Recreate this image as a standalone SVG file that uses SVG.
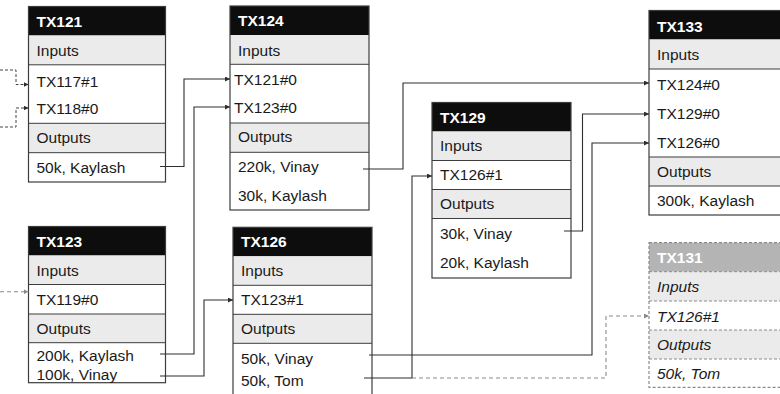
<svg xmlns="http://www.w3.org/2000/svg" width="780" height="394" viewBox="0 0 780 394">
  <style>
    .hdr { fill: #0d0d0d; }
    .sec { fill: #ebebeb; }
    .cell { fill: #ffffff; }
    .sep { stroke: #3c3c3c; stroke-width: 1; }
    .frame { fill: none; stroke: #3c3c3c; stroke-width: 1.2; }
    .t { font-family: "Liberation Sans", Arial, sans-serif; font-size: 15.5px; fill: #1a1a1a; }
    .h { font-weight: bold; fill: #ffffff; }
    .ghost .hdr { fill: #b4b4b4; }
    .ghost .sep, .ghost .frame { stroke: #8a8a8a; stroke-dasharray: 3 2; }
    .ghost .t { font-style: italic; }
    .ghost .h { font-style: normal; fill: #ffffff; }
    .wire { fill: none; stroke: #2e2e2e; stroke-width: 1.1; marker-end: url(#tip); }
    .ext { fill: none; stroke: #444; stroke-width: 1; stroke-dasharray: 3 2; marker-end: url(#tip); }
    .ghostwire { fill: none; stroke: #8a8a8a; stroke-width: 1.1; stroke-dasharray: 4 3; marker-end: url(#tipgray); }
  </style>
  <defs>
    <marker id="tip" markerUnits="userSpaceOnUse" markerWidth="6" markerHeight="6" refX="5" refY="2.5" orient="auto">
      <path d="M0,0 L5,2.5 L0,5 z" fill="#2e2e2e"/>
    </marker>
    <marker id="tipgray" markerUnits="userSpaceOnUse" markerWidth="6" markerHeight="6" refX="5" refY="2.5" orient="auto">
      <path d="M0,0 L5,2.5 L0,5 z" fill="#8a8a8a"/>
    </marker>
  </defs>

  <rect width="780" height="394" fill="#ffffff"/>

  <!-- TX121 -->
  <g id="TX121">
    <rect class="hdr" x="28.5" y="6.5" width="137" height="29"/>
    <rect class="sec" x="28.5" y="35.5" width="137" height="29.3"/>
    <rect class="cell" x="28.5" y="64.8" width="137" height="58.5"/>
    <rect class="sec" x="28.5" y="123.3" width="137" height="29.4"/>
    <rect class="cell" x="28.5" y="152.7" width="137" height="29.3"/>
    <path class="sep" d="M28.5,64.8 H165.5 M28.5,123.3 H165.5 M28.5,152.7 H165.5"/>
    <rect class="frame" x="28.5" y="6.5" width="137" height="175.5"/>
    <text class="t h" x="36.5" y="26.5">TX121</text>
    <text class="t" x="36.5" y="56">Inputs</text>
    <text class="t" x="36.5" y="87">TX117#1</text>
    <text class="t" x="36.5" y="114">TX118#0</text>
    <text class="t" x="36.5" y="143">Outputs</text>
    <text class="t" x="36.5" y="172.5">50k, Kaylash</text>
  </g>

  <!-- TX124 -->
  <g id="TX124">
    <rect class="hdr" x="230" y="6" width="139" height="29"/>
    <rect class="sec" x="230" y="35" width="139" height="29.3"/>
    <rect class="cell" x="230" y="64.3" width="139" height="58.7"/>
    <rect class="sec" x="230" y="123" width="139" height="29.3"/>
    <rect class="cell" x="230" y="152.3" width="139" height="57.7"/>
    <path class="sep" d="M230,64.3 H369 M230,123 H369 M230,152.3 H369"/>
    <rect class="frame" x="230" y="6" width="139" height="204"/>
    <text class="t h" x="238" y="25.5">TX124</text>
    <text class="t" x="238" y="55.5">Inputs</text>
    <text class="t" x="234" y="84.5">TX121#0</text>
    <text class="t" x="234" y="113">TX123#0</text>
    <text class="t" x="238" y="142">Outputs</text>
    <text class="t" x="238" y="172">220k, Vinay</text>
    <text class="t" x="238" y="201">30k, Kaylash</text>
  </g>

  <!-- TX129 -->
  <g id="TX129">
    <rect class="hdr" x="432" y="102.5" width="139" height="29"/>
    <rect class="sec" x="432" y="131.5" width="139" height="29"/>
    <rect class="cell" x="432" y="160.5" width="139" height="29"/>
    <rect class="sec" x="432" y="189.5" width="139" height="29"/>
    <rect class="cell" x="432" y="218.5" width="139" height="59.5"/>
    <path class="sep" d="M432,160.5 H571 M432,189.5 H571 M432,218.5 H571"/>
    <rect class="frame" x="432" y="102.5" width="139" height="175.5"/>
    <text class="t h" x="440" y="122.5">TX129</text>
    <text class="t" x="440" y="151">Inputs</text>
    <text class="t" x="440" y="180">TX126#1</text>
    <text class="t" x="440" y="209">Outputs</text>
    <text class="t" x="440" y="238.5">30k, Vinay</text>
    <text class="t" x="440" y="267.5">20k, Kaylash</text>
  </g>

  <!-- TX133 -->
  <g id="TX133">
    <rect class="hdr" x="649" y="10.5" width="141" height="29"/>
    <rect class="sec" x="649" y="39.5" width="141" height="29.5"/>
    <rect class="cell" x="649" y="69" width="141" height="88"/>
    <rect class="sec" x="649" y="157" width="141" height="29"/>
    <rect class="cell" x="649" y="186" width="141" height="29"/>
    <path class="sep" d="M649,69 H790 M649,157 H790 M649,186 H790"/>
    <rect class="frame" x="649" y="10.5" width="141" height="204.5"/>
    <text class="t h" x="657" y="31.5">TX133</text>
    <text class="t" x="657" y="60">Inputs</text>
    <text class="t" x="657" y="89.5">TX124#0</text>
    <text class="t" x="657" y="118.5">TX129#0</text>
    <text class="t" x="657" y="147.5">TX126#0</text>
    <text class="t" x="657" y="177">Outputs</text>
    <text class="t" x="657" y="206">300k, Kaylash</text>
  </g>

  <!-- TX123 -->
  <g id="TX123">
    <rect class="hdr" x="28.5" y="226.5" width="137" height="29"/>
    <rect class="sec" x="28.5" y="255.5" width="137" height="29"/>
    <rect class="cell" x="28.5" y="284.5" width="137" height="29.5"/>
    <rect class="sec" x="28.5" y="314" width="137" height="28.7"/>
    <rect class="cell" x="28.5" y="342.7" width="137" height="40"/>
    <path class="sep" d="M28.5,284.5 H165.5 M28.5,314 H165.5 M28.5,342.7 H165.5"/>
    <rect class="frame" x="28.5" y="226.5" width="137" height="156.2"/>
    <text class="t h" x="36.5" y="246.5">TX123</text>
    <text class="t" x="36.5" y="275.5">Inputs</text>
    <text class="t" x="36.5" y="304.5">TX119#0</text>
    <text class="t" x="36.5" y="333.5">Outputs</text>
    <text class="t" x="36.5" y="360.5">200k, Kaylash</text>
    <text class="t" x="36.5" y="379.5">100k, Vinay</text>
  </g>

  <!-- TX126 -->
  <g id="TX126">
    <rect class="hdr" x="233" y="227.3" width="139" height="29"/>
    <rect class="sec" x="233" y="256.3" width="139" height="29"/>
    <rect class="cell" x="233" y="285.3" width="139" height="29"/>
    <rect class="sec" x="233" y="314.3" width="139" height="29"/>
    <rect class="cell" x="233" y="343.3" width="139" height="60"/>
    <path class="sep" d="M233,285.3 H372 M233,314.3 H372 M233,343.3 H372"/>
    <rect class="frame" x="233" y="227.3" width="139" height="176"/>
    <text class="t h" x="241" y="246.7">TX126</text>
    <text class="t" x="241" y="276">Inputs</text>
    <text class="t" x="241" y="305">TX123#1</text>
    <text class="t" x="241" y="334">Outputs</text>
    <text class="t" x="241" y="364">50k, Vinay</text>
    <text class="t" x="241" y="386">50k, Tom</text>
  </g>

  <!-- TX131 (pending) -->
  <g id="TX131" class="ghost">
    <rect class="hdr" x="649" y="242.7" width="141" height="29"/>
    <rect class="sec" x="649" y="271.7" width="141" height="29.3"/>
    <rect class="cell" x="649" y="301" width="141" height="29"/>
    <rect class="sec" x="649" y="330" width="141" height="29"/>
    <rect class="cell" x="649" y="359" width="141" height="28.3"/>
    <path class="sep" d="M649,271.7 H790 M649,301 H790 M649,330 H790 M649,359 H790"/>
    <rect class="frame" x="649" y="242.7" width="141" height="144.6"/>
    <text class="t h" x="657" y="263.3">TX131</text>
    <text class="t" x="657" y="292.3">Inputs</text>
    <text class="t" x="657" y="321.7">TX126#1</text>
    <text class="t" x="657" y="350">Outputs</text>
    <text class="t" x="657" y="379">50k, Tom</text>
  </g>

  <!-- connectors -->
  <g id="connectors">
    <path class="ext" d="M0,70 H16 V84.5 H28.5"/>
    <path class="ext" d="M0,127 H16 V108 H28.5"/>
    <path class="ghostwire" d="M0,291.7 H28.5"/>
    <path class="wire" d="M160,166.5 H184 V79 H230"/>
    <path class="wire" d="M160,354 H194 V107 H230"/>
    <path class="wire" d="M160,376 H204 V300 H233"/>
    <path class="wire" d="M363,169 H403 V83 H649"/>
    <path class="wire" d="M564,231 H582.5 V114 H649"/>
    <path class="wire" d="M369,355 H592 V143 H649"/>
    <path class="wire" d="M364,378 H412 V176 H432"/>
    <path class="ghostwire" d="M412,378 H606 V316 H649"/>
  </g>
</svg>
